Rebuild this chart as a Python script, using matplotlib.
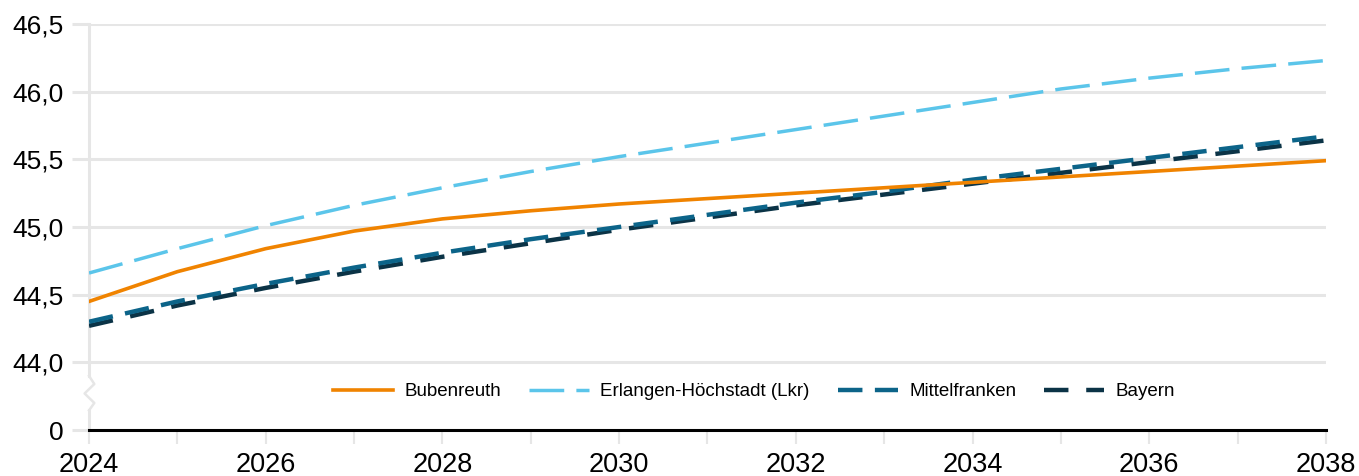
import numpy as np
import matplotlib.pyplot as plt

plt.rcParams['font.family'] = ['Liberation Sans', 'DejaVu Sans']

years = list(range(2024, 2039))
bubenreuth = [44.45, 44.67, 44.84, 44.97, 45.06, 45.12, 45.17, 45.21, 45.25, 45.29,
              45.33, 45.37, 45.41, 45.45, 45.49]
erlangen = [44.66, 44.84, 45.01, 45.16, 45.29, 45.41, 45.52, 45.62, 45.72, 45.82,
            45.92, 46.02, 46.10, 46.17, 46.23]
mittelfranken = [44.30, 44.45, 44.58, 44.70, 44.81, 44.91, 45.00, 45.09, 45.18, 45.26,
                 45.35, 45.43, 45.51, 45.59, 45.67]
bayern = [44.27, 44.42, 44.55, 44.67, 44.78, 44.88, 44.98, 45.07, 45.16, 45.24,
          45.32, 45.40, 45.48, 45.56, 45.64]

ytick_vals = [43.5, 44.0, 44.5, 45.0, 45.5, 46.0, 46.5]
ytick_labels = ['0', '44,0', '44,5', '45,0', '45,5', '46,0', '46,5']
xtick_vals = list(range(2024, 2039, 2))

fig = plt.figure(figsize=(13.59, 4.76), dpi=100)
ax = fig.add_axes([0.0655, 0.0966, 0.9102, 0.853])

grid_c = '#e6e6e6'
for yv in ytick_vals[1:]:
    ax.axhline(yv, color=grid_c, lw=2.2, zorder=0)

ax.plot(years, bubenreuth, color='#f08300', lw=2.6, label='Bubenreuth', zorder=3)
ax.plot(years, erlangen, color='#5bc5ea', lw=2.5, dashes=(10, 3.5),
        label='Erlangen-Höchstadt (Lkr)', zorder=2)
ax.plot(years, bayern, color='#0b3346', lw=3.2, dashes=(5.5, 4),
        label='Bayern', zorder=2)
ax.plot(years, mittelfranken, color='#0c6489', lw=3.2, dashes=(5.5, 2.8),
        label='Mittelfranken', zorder=2)

ax.set_xlim(2024, 2038)
ax.set_ylim(43.5, 46.5)

# Nulllinie
ax.axhline(43.5, color='black', lw=2.2, zorder=4, clip_on=False)

# linke Achse mit Achsenbruch
for s in ['left', 'right', 'top', 'bottom']:
    ax.spines[s].set_visible(False)
ax.plot([2024, 2024], [43.90, 46.5], color=grid_c, lw=2.2, clip_on=False, zorder=1)
ax.plot([2024, 2024], [43.5, 43.645], color=grid_c, lw=2.2, clip_on=False, zorder=1)
ax.plot([2024, 2024.06, 2023.95, 2024.06, 2024],
        [43.90, 43.84, 43.77, 43.70, 43.645],
        color=grid_c, lw=1.8, clip_on=False, zorder=1)

ax.set_yticks(ytick_vals)
ax.set_yticklabels(ytick_labels)
ax.set_xticks(xtick_vals)
ax.set_xticks(years, minor=True)
ax.tick_params(axis='y', length=12, width=2.2, color=grid_c, labelsize=19, pad=6)
ax.tick_params(axis='x', which='both', length=10, width=1.5, color=grid_c,
               labelsize=19.5, pad=6)

handles, labels = ax.get_legend_handles_labels()
order = [0, 1, 3, 2]
ax.legend([handles[i] for i in order], [labels[i] for i in order],
          loc='center', bbox_to_anchor=(0.5376, 0.094), ncol=4, frameon=False,
          fontsize=13.5, handlelength=3.2, handletextpad=0.6, columnspacing=1.5)

fig.savefig('out.png', dpi=100)
